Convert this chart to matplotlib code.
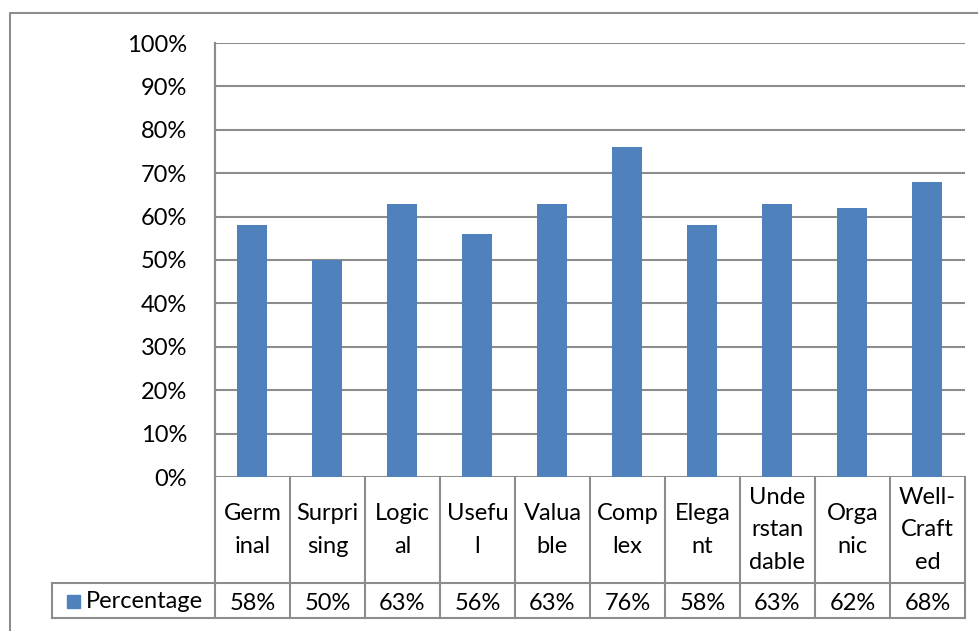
import matplotlib.pyplot as plt
from matplotlib.transforms import blended_transform_factory
from matplotlib.lines import Line2D
from matplotlib.patches import Rectangle

# data
categories = ["Germ\ninal", "Surpri\nsing", "Logic\nal", "Usefu\nl", "Valua\nble",
              "Comp\nlex", "Elega\nnt", "Unde\nrstan\ndable", "Orga\nnic", "Well-\nCraft\ned"]
values = [58, 50, 63, 56, 63, 76, 58, 63, 62, 68]
series_name = "Percentage"

bar_color = "#4F81BD"
grid_color = "#8C8C8C"
W, H = 979, 631
fs = 17

plt.rcParams['font.family'] = ['Lato', 'DejaVu Sans']

fig = plt.figure(figsize=(W / 100, H / 100), dpi=100)

def fy(py):
    # pixel row from top -> figure fraction
    return 1 - py / H

def fx(px):
    return px / W

ax = fig.add_axes([fx(215), fy(477), fx(965) - fx(215), fy(43) - fy(477)])
x = list(range(len(values)))
ax.bar(x, values, width=0.4, color=bar_color, zorder=3)
ax.set_xlim(-0.5, len(values) - 0.5)
ax.set_ylim(0, 100)
ax.set_yticks(range(0, 101, 10))
ax.set_yticklabels([f"{v}%" for v in range(0, 101, 10)], fontsize=fs)
ax.yaxis.grid(True, color=grid_color, linewidth=1.5, zorder=0)
ax.set_xticks([])
ax.tick_params(axis='y', length=0, pad=20)
for s in ["top", "right", "bottom"]:
    ax.spines[s].set_visible(False)
ax.spines["left"].set_color(grid_color)
ax.spines["left"].set_linewidth(1.5)

# data table below the plot
tr = blended_transform_factory(ax.transData, fig.transFigure)
lw = 1.5
n = len(values)
for i in range(n + 1):
    xb = i - 0.5
    top = 43 if i == 0 else 477
    fig.add_artist(Line2D([xb, xb], [fy(top), fy(618)], transform=tr,
                          color=grid_color, linewidth=lw))
for py in (583, 618):
    fig.add_artist(Line2D([fx(52), fx(965)], [fy(py), fy(py)], transform=fig.transFigure,
                          color=grid_color, linewidth=lw))
fig.add_artist(Line2D([fx(52), fx(52)], [fy(583), fy(618)], transform=fig.transFigure,
                      color=grid_color, linewidth=lw))

for i, (lab, v) in enumerate(zip(categories, values)):
    fig.text(i, fy(530), lab, transform=tr, ha="center", va="center",
             fontsize=fs, linespacing=1.7)
    fig.text(i, fy(603), f"{v}%", transform=tr, ha="center", va="center", fontsize=fs)

# legend key in table
fig.add_artist(Rectangle((fx(67), fy(608)), fx(80) - fx(67), fy(595) - fy(608),
                         transform=fig.transFigure, color=bar_color))
fig.text(fx(86), fy(602), series_name, ha="left", va="center", fontsize=fs)

# outer chart frame
fig.add_artist(Line2D([fx(10), fx(10), 1.0], [0.0, fy(13), fy(13)], transform=fig.transFigure,
                      color=grid_color, linewidth=1.5))

fig.savefig("out.png", dpi=100)
